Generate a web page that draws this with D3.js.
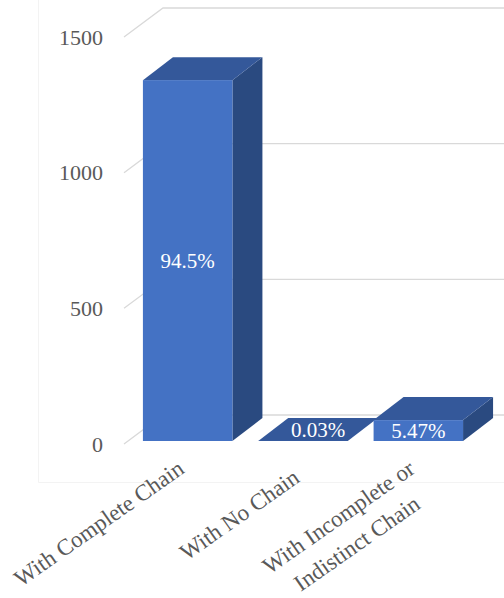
<!DOCTYPE html>
<html>
<head>
<meta charset="utf-8">
<script src="https://cdn.jsdelivr.net/npm/d3@7"></script>
<style>
  html, body { margin: 0; padding: 0; background: #fff; }
  svg { display: block; }
</style>
</head>
<body>
<svg id="chart" width="504" height="598"></svg>
<script>
// ---- data ----
const categories = ["With Complete Chain", "With No Chain", "With Incomplete or Indistinct Chain"];
const categoryLines = [["With Complete Chain"], ["With No Chain"], ["With Incomplete or", "Indistinct Chain"]];
const values = [1330, 0.4, 77];
const dataLabels = ["94.5%", "0.03%", "5.47%"];
const yTicks = [0, 500, 1000, 1500];

// ---- layout ----
const W = 504, H = 598;
const FONT = '"Liberation Serif"';
const svg = d3.select("#chart");
const colFront = "#4472c4", colTop = "#34589a", colSide = "#2a4a80";
const gridCol = "#d9d9d9", textCol = "#595959";

const y = d3.scaleLinear().domain([0, 1500]).range([444, 37]);
const x = d3.scaleBand().domain(categories).range([126, 472]).paddingInner(0.224).paddingOuter(0.112);

const floorLeft = 124;
const floorDepth = { dx: 39, dy: -29 };
const barOffset = { dx: 4, dy: -3 };
const barDepth = { dx: 30, dy: -23 };

// chart area border (faint)
svg.append("path")
  .attr("d", `M38.5,0 L38.5,482.5 L${W + 2},482.5`)
  .attr("fill", "none").attr("stroke", "#f3f3f3").attr("stroke-width", 1);

// gridlines (side wall diagonal + back wall horizontal)
svg.append("g").selectAll("path").data(yTicks).join("path")
  .attr("d", t => {
    const y0 = y(t);
    return `M${floorLeft},${y0} L${floorLeft + floorDepth.dx},${y0 + floorDepth.dy} L${W + 5},${y0 + floorDepth.dy}`;
  })
  .attr("fill", "none").attr("stroke", gridCol).attr("stroke-width", 1.3);

// y tick labels
svg.append("g").selectAll("text").data(yTicks).join("text")
  .attr("x", 103).attr("y", t => y(t)).attr("dy", "0.35em")
  .attr("text-anchor", "end").attr("fill", textCol)
  .style("font-family", FONT)
  .attr("font-size", 22).text(t => t);

// bars
const bars = categories.map((c, i) => {
  const fx = x(c) + barOffset.dx;
  const fw = x.bandwidth();
  const base = y(0) + barOffset.dy;
  const top = y(values[i]) + barOffset.dy;
  return { c, i, fx, fw, base, top };
});

const gBars = svg.append("g");
bars.forEach(b => {
  const g = gBars.append("g");
  g.append("path")
    .attr("d", `M${b.fx + b.fw},${b.top} L${b.fx + b.fw + barDepth.dx},${b.top + barDepth.dy} L${b.fx + b.fw + barDepth.dx},${b.base + barDepth.dy} L${b.fx + b.fw},${b.base} Z`)
    .attr("fill", colSide);
  g.append("path")
    .attr("d", `M${b.fx},${b.top} L${b.fx + barDepth.dx},${b.top + barDepth.dy} L${b.fx + b.fw + barDepth.dx},${b.top + barDepth.dy} L${b.fx + b.fw},${b.top} Z`)
    .attr("fill", colTop);
  g.append("rect")
    .attr("x", b.fx).attr("y", b.top)
    .attr("width", b.fw).attr("height", Math.max(0, b.base - b.top))
    .attr("fill", colFront);
});

// data labels
bars.forEach(b => {
  const h = b.base - b.top;
  let cx, cy;
  if (h < 10) {
    cx = b.fx + b.fw / 2 + barDepth.dx / 2;
    cy = b.top + barDepth.dy / 2;
  } else {
    cx = b.fx + b.fw / 2;
    cy = (b.top + b.base) / 2;
  }
  svg.append("text")
    .attr("x", cx).attr("y", cy).attr("dy", "0.35em")
    .attr("text-anchor", "middle").attr("fill", "#ffffff")
    .style("font-family", FONT)
    .attr("font-size", 21).text(dataLabels[b.i]);
});

// category labels (rotated)
const labelShiftY = [0, 9, 0];
const lineH = 32;
bars.forEach(b => {
  const px = b.fx + b.fw / 2 - 2;
  const py = 472 + labelShiftY[b.i];
  const g = svg.append("g").attr("transform", `translate(${px},${py}) rotate(-35)`);
  const lines = categoryLines[b.i];
  const texts = lines.map((ln, j) => g.append("text")
    .attr("y", j * lineH)
    .attr("text-anchor", "middle").attr("fill", textCol)
    .style("font-family", FONT)
    .attr("font-size", 23).text(ln));
  const blockW = d3.max(texts, t => t.node().getComputedTextLength());
  texts.forEach(t => t.attr("x", -blockW / 2));
});
</script>
</body>
</html>
